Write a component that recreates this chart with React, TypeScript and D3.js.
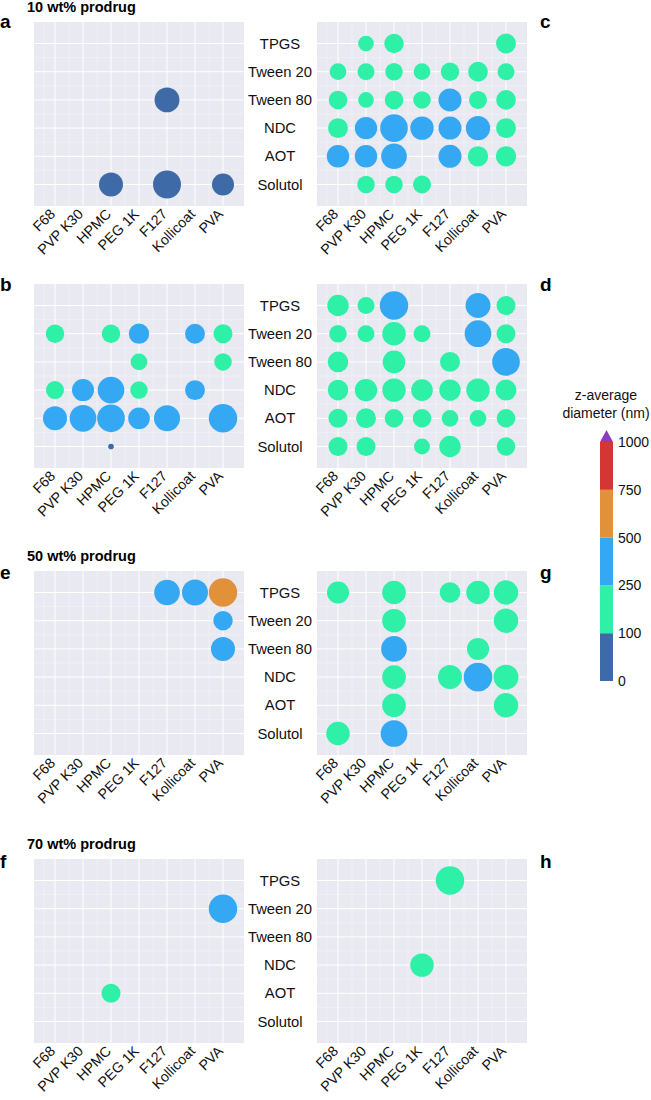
import React, { useEffect, useRef } from 'react';
import * as d3 from 'd3';

// [surfactant, polymer, z-average diameter (nm), size]
type Bubble = [string, string, number, number];

const polymers = ['F68', 'PVP K30', 'HPMC', 'PEG 1K', 'F127', 'Kollicoat', 'PVA'];
const surfactants = ['TPGS', 'Tween 20', 'Tween 80', 'NDC', 'AOT', 'Solutol'];

const colorTicks = [0, 100, 250, 500, 750, 1000];
const colorRange = ['#3E6AA8', '#2EF0A6', '#34A8F3', '#E0913A', '#D43636', '#8B3DBB'];

const panelA: Bubble[] = [
  ['Tween 80', 'F127', 80, 69],
  ['Solutol', 'HPMC', 80, 64],
  ['Solutol', 'F127', 80, 87],
  ['Solutol', 'PVA', 80, 54],
];

const panelC: Bubble[] = [
  ['TPGS', 'PVP K30', 170, 27], ['TPGS', 'HPMC', 170, 42], ['TPGS', 'PVA', 170, 44],
  ['Tween 20', 'F68', 170, 31], ['Tween 20', 'PVP K30', 170, 32], ['Tween 20', 'HPMC', 170, 34],
  ['Tween 20', 'PEG 1K', 170, 31], ['Tween 20', 'F127', 170, 38], ['Tween 20', 'Kollicoat', 170, 43],
  ['Tween 20', 'PVA', 170, 32],
  ['Tween 80', 'F68', 170, 38], ['Tween 80', 'PVP K30', 170, 27], ['Tween 80', 'HPMC', 170, 38],
  ['Tween 80', 'PEG 1K', 170, 34], ['Tween 80', 'F127', 350, 59], ['Tween 80', 'Kollicoat', 170, 36],
  ['Tween 80', 'PVA', 170, 43],
  ['NDC', 'F68', 170, 44], ['NDC', 'PVP K30', 350, 56], ['NDC', 'HPMC', 350, 85],
  ['NDC', 'PEG 1K', 350, 61], ['NDC', 'F127', 350, 59], ['NDC', 'Kollicoat', 350, 66],
  ['NDC', 'PVA', 170, 44],
  ['AOT', 'F68', 350, 56], ['AOT', 'PVP K30', 350, 56], ['AOT', 'HPMC', 350, 73],
  ['AOT', 'F127', 350, 59], ['AOT', 'Kollicoat', 170, 46], ['AOT', 'PVA', 170, 46],
  ['Solutol', 'PVP K30', 170, 34], ['Solutol', 'HPMC', 170, 34], ['Solutol', 'PEG 1K', 170, 36],
];

const panelB: Bubble[] = [
  ['Tween 20', 'F68', 170, 38], ['Tween 20', 'HPMC', 170, 38], ['Tween 20', 'PEG 1K', 350, 46],
  ['Tween 20', 'Kollicoat', 350, 44], ['Tween 20', 'PVA', 170, 40],
  ['Tween 80', 'PEG 1K', 170, 31], ['Tween 80', 'PVA', 170, 34],
  ['NDC', 'F68', 170, 36], ['NDC', 'PVP K30', 350, 54], ['NDC', 'HPMC', 350, 79],
  ['NDC', 'PEG 1K', 170, 34], ['NDC', 'Kollicoat', 350, 44],
  ['AOT', 'F68', 350, 64], ['AOT', 'PVP K30', 350, 79], ['AOT', 'HPMC', 350, 85],
  ['AOT', 'PEG 1K', 350, 52], ['AOT', 'F127', 350, 75], ['AOT', 'PVA', 350, 90],
  ['Solutol', 'HPMC', 80, 3.5],
];

const panelD: Bubble[] = [
  ['TPGS', 'F68', 170, 51], ['TPGS', 'PVP K30', 170, 32], ['TPGS', 'HPMC', 350, 90],
  ['TPGS', 'Kollicoat', 350, 69], ['TPGS', 'PVA', 170, 40],
  ['Tween 20', 'F68', 170, 34], ['Tween 20', 'PVP K30', 170, 32], ['Tween 20', 'HPMC', 170, 61],
  ['Tween 20', 'PEG 1K', 170, 32], ['Tween 20', 'Kollicoat', 350, 79], ['Tween 20', 'PVA', 170, 40],
  ['Tween 80', 'F68', 170, 47], ['Tween 80', 'HPMC', 170, 57], ['Tween 80', 'F127', 170, 44],
  ['Tween 80', 'PVA', 350, 85],
  ['NDC', 'F68', 170, 47], ['NDC', 'PVP K30', 170, 56], ['NDC', 'HPMC', 170, 61],
  ['NDC', 'PEG 1K', 170, 52], ['NDC', 'F127', 170, 51], ['NDC', 'Kollicoat', 170, 61],
  ['NDC', 'PVA', 170, 49],
  ['AOT', 'F68', 170, 40], ['AOT', 'PVP K30', 170, 44], ['AOT', 'HPMC', 170, 38],
  ['AOT', 'PEG 1K', 170, 38], ['AOT', 'F127', 170, 31], ['AOT', 'Kollicoat', 170, 31],
  ['AOT', 'PVA', 170, 38],
  ['Solutol', 'F68', 170, 40], ['Solutol', 'PVP K30', 170, 40], ['Solutol', 'PEG 1K', 170, 28],
  ['Solutol', 'F127', 170, 51], ['Solutol', 'PVA', 170, 38],
];

const panelE: Bubble[] = [
  ['TPGS', 'F127', 350, 73], ['TPGS', 'Kollicoat', 350, 75], ['TPGS', 'PVA', 600, 90],
  ['Tween 20', 'PVA', 350, 42],
  ['Tween 80', 'PVA', 350, 64],
];

const panelG: Bubble[] = [
  ['TPGS', 'F68', 170, 54], ['TPGS', 'HPMC', 170, 62], ['TPGS', 'F127', 170, 47],
  ['TPGS', 'Kollicoat', 170, 61], ['TPGS', 'PVA', 170, 66],
  ['Tween 20', 'HPMC', 170, 62], ['Tween 20', 'PVA', 170, 66],
  ['Tween 80', 'HPMC', 350, 73], ['Tween 80', 'Kollicoat', 170, 54],
  ['NDC', 'HPMC', 170, 62], ['NDC', 'F127', 170, 64], ['NDC', 'Kollicoat', 350, 91],
  ['NDC', 'PVA', 170, 69],
  ['AOT', 'HPMC', 170, 62], ['AOT', 'PVA', 170, 66],
  ['Solutol', 'F68', 170, 61], ['Solutol', 'HPMC', 350, 79],
];

const panelF: Bubble[] = [
  ['Tween 20', 'PVA', 350, 90],
  ['AOT', 'HPMC', 170, 40],
];

const panelH: Bubble[] = [
  ['TPGS', 'F127', 170, 90],
  ['NDC', 'PEG 1K', 170, 61],
];

const panels = [
  { letter: 'a', title: '10 wt% prodrug', col: 0, row: 0, data: panelA },
  { letter: 'c', title: '', col: 1, row: 0, data: panelC },
  { letter: 'b', title: '', col: 0, row: 1, data: panelB },
  { letter: 'd', title: '', col: 1, row: 1, data: panelD },
  { letter: 'e', title: '50 wt% prodrug', col: 0, row: 2, data: panelE },
  { letter: 'g', title: '', col: 1, row: 2, data: panelG },
  { letter: 'f', title: '70 wt% prodrug', col: 0, row: 3, data: panelF },
  { letter: 'h', title: '', col: 1, row: 3, data: panelH },
];

const W = 651;
const H = 1100;
const FONT = '"Liberation Sans", Arial, Helvetica, sans-serif';

const App: React.FC = () => {
  const svgRef = useRef<SVGSVGElement | null>(null);

  useEffect(() => {
    if (!svgRef.current) return;
    const svg = d3.select(svgRef.current);
    svg.selectAll('*').remove();

    const colLeft = [34, 317];
    const plotW = 210;
    const plotH = 184;
    const rowTop = [22, 284, 571, 859];
    const letterY = [28, 291, 579, 868];

    const color = d3.scaleThreshold<number, string>()
      .domain(colorTicks.slice(1))
      .range(colorRange);
    const rScale = d3.scaleSqrt().domain([0, 100]).range([0, 15]);

    panels.forEach((p) => {
      const x0 = colLeft[p.col];
      const y0 = rowTop[p.row];
      const x = d3.scalePoint<string>().domain(polymers).range([x0 + 21, x0 + plotW - 21]);
      const y = d3.scalePoint<string>().domain(surfactants).range([y0 + 21.5, y0 + 162.5]);
      const step = x.step();

      const g = svg.append('g');
      g.append('rect')
        .attr('x', x0).attr('y', y0)
        .attr('width', plotW).attr('height', plotH)
        .attr('fill', '#E9E9F1');

      // minor grid
      const minorX = polymers.slice(1).map((d) => (x(d) as number) - step / 2);
      const minorY = surfactants.slice(1).map((d) => (y(d) as number) - y.step() / 2);
      minorX.concat([(x(polymers[0]) as number) - step / 2 + 3]).forEach((v) => {
        g.append('line').attr('x1', v).attr('x2', v).attr('y1', y0).attr('y2', y0 + plotH)
          .attr('stroke', '#fff').attr('stroke-opacity', 0.45).attr('stroke-width', 0.6);
      });
      minorY.forEach((v) => {
        g.append('line').attr('x1', x0).attr('x2', x0 + plotW).attr('y1', v).attr('y2', v)
          .attr('stroke', '#fff').attr('stroke-opacity', 0.45).attr('stroke-width', 0.6);
      });

      // major grid
      g.selectAll('.vx').data(polymers).enter().append('line')
        .attr('x1', (d) => x(d) as number).attr('x2', (d) => x(d) as number)
        .attr('y1', y0).attr('y2', y0 + plotH)
        .attr('stroke', '#fff').attr('stroke-width', 1);
      g.selectAll('.hy').data(surfactants).enter().append('line')
        .attr('y1', (d) => y(d) as number).attr('y2', (d) => y(d) as number)
        .attr('x1', x0).attr('x2', x0 + plotW)
        .attr('stroke', '#fff').attr('stroke-width', 1);

      // bubbles
      g.selectAll('.b').data(p.data).enter().append('circle')
        .attr('cx', (d) => x(d[1]) as number)
        .attr('cy', (d) => y(d[0]) as number)
        .attr('r', (d) => rScale(d[3]))
        .attr('fill', (d) => color(d[2]));

      // x tick labels
      g.selectAll('.xl').data(polymers).enter().append('text')
        .attr('transform', (d) => `translate(${(x(d) as number) + 1},${y0 + plotH + 9}) rotate(-45)`)
        .attr('text-anchor', 'end')
        .attr('font-family', FONT)
        .attr('font-size', 14.2)
        .attr('fill', '#111')
        .text((d) => d);

      // y labels between columns
      if (p.col === 0) {
        g.selectAll('.yl').data(surfactants).enter().append('text')
          .attr('x', 280)
          .attr('y', (d) => y(d) as number)
          .attr('dy', '0.35em')
          .attr('text-anchor', 'middle')
          .attr('font-family', FONT)
          .attr('font-size', 14.8)
          .attr('fill', '#111')
          .text((d) => d);
      }

      // panel letter
      g.append('text')
        .attr('x', p.col === 0 ? 0 : 540)
        .attr('y', letterY[p.row])
        .attr('font-family', FONT)
        .attr('font-size', 19)
        .attr('font-weight', 'bold')
        .text(p.letter);

      if (p.title) {
        g.append('text')
          .attr('x', 27)
          .attr('y', y0 - 10)
          .attr('font-family', FONT)
          .attr('font-size', 14.5)
          .attr('font-weight', 'bold')
          .text(p.title);
      }
    });

    // colour bar
    const cb = svg.append('g');
    const cbX = 600;
    const cbW = 13;
    const cy = d3.scalePoint<number>().domain(colorTicks).range([681, 442]);
    d3.pairs(colorTicks).forEach(([a, b]) => {
      cb.append('rect')
        .attr('x', cbX).attr('width', cbW)
        .attr('y', cy(b) as number)
        .attr('height', (cy(a) as number) - (cy(b) as number))
        .attr('fill', color((a + b) / 2));
    });
    const topY = cy(colorTicks[colorTicks.length - 1]) as number;
    cb.append('path')
      .attr('d', `M${cbX},${topY} L${cbX + cbW},${topY} L${cbX + cbW / 2},${topY - 12} Z`)
      .attr('fill', color(1001));
    cb.selectAll('.ct').data(colorTicks).enter().append('text')
      .attr('x', cbX + cbW + 5)
      .attr('y', (d) => cy(d) as number)
      .attr('dy', '0.35em')
      .attr('font-family', FONT)
      .attr('font-size', 14)
      .attr('fill', '#111')
      .text((d) => d);
    cb.append('text')
      .attr('x', 606).attr('y', 400)
      .attr('text-anchor', 'middle')
      .attr('font-family', FONT).attr('font-size', 14).attr('fill', '#111')
      .text('z-average');
    cb.append('text')
      .attr('x', 606).attr('y', 418)
      .attr('text-anchor', 'middle')
      .attr('font-family', FONT).attr('font-size', 14).attr('fill', '#111')
      .text('diameter (nm)');
  }, []);

  return (
    <svg
      ref={svgRef}
      width={W}
      height={H}
      style={{ position: 'absolute', left: 0, top: 0, background: '#fff' }}
    />
  );
};

export default App;
